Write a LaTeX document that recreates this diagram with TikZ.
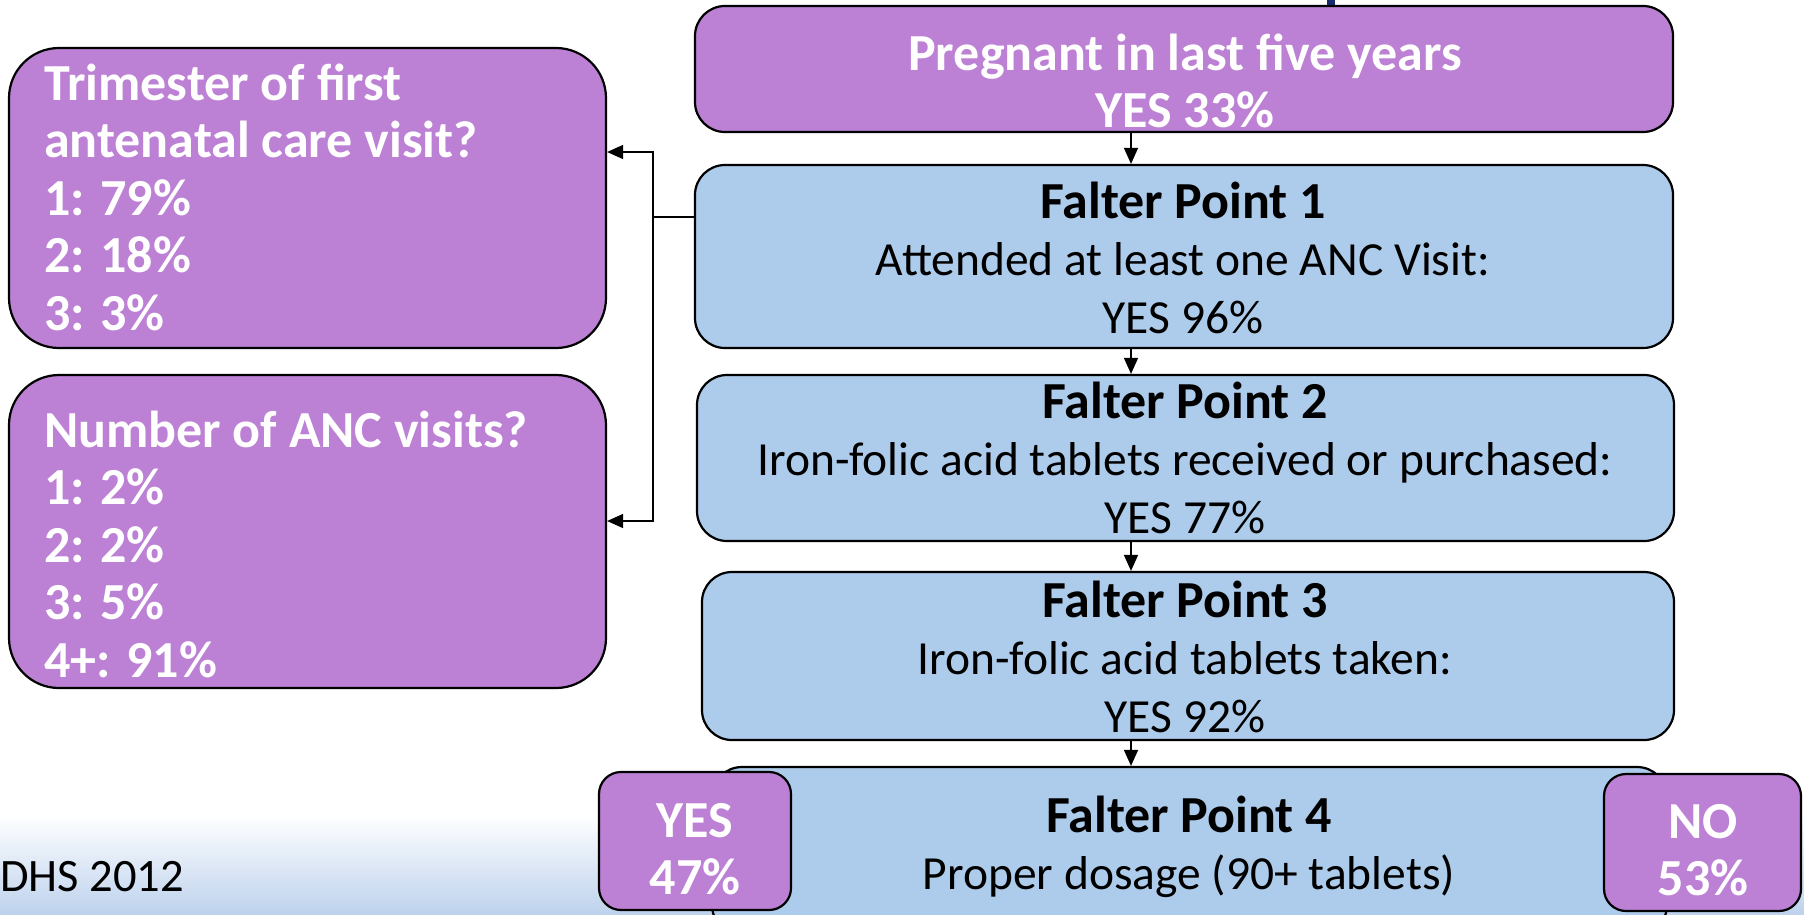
\documentclass[tikz,border=0pt]{standalone}
\usepackage{fontspec}
\setmainfont{Carlito}
\usetikzlibrary{arrows.meta}
\definecolor{boxpurple}{RGB}{188,128,212}
\definecolor{boxblue}{RGB}{173,203,234}
\definecolor{bandblue}{RGB}{190,210,237}
\definecolor{titlenavy}{RGB}{22,42,110}
\newcommand{\falter}[1]{{\fontsize{52}{57.5}\selectfont\bfseries Falter Point #1}}
\begin{document}
\begin{tikzpicture}[x=1pt, y=-1pt, >={Triangle[length=16pt,width=14pt]},
    box/.style={draw, line width=2.2pt, rounded corners=#1, inner sep=0pt},
    box/.default=30pt,
    purplebox/.style={box=#1, fill=boxpurple},
    purplebox/.default=30pt,
    bluebox/.style={box=30pt, fill=boxblue},
    whitetxt/.style={inner sep=0pt, align=center, anchor=north, text=white,
      font=\fontsize{52}{57.5}\selectfont\bfseries},
    blacktxt/.style={inner sep=0pt, align=center, anchor=north,
      font=\fontsize{47.5}{57.5}\selectfont},
    link/.style={line width=1.5pt}]
  \useasboundingbox (0,0) rectangle (1804,914);

  \shade[top color=white, bottom color=bandblue] (0,815) rectangle (1804,914);
  \fill[titlenavy] (1327,0) rectangle (1335,6);
  \node[anchor=base west, inner sep=0pt, font=\fontsize{46.5}{56}\selectfont] (source) at (0,891) {DHS 2012};

  \node[purplebox, minimum width=978pt, minimum height=126pt] (preg) at (1184,69) {};
  \node[bluebox, minimum width=978pt, minimum height=183pt] (fp1) at (1184,256.5) {};
  \node[bluebox, minimum width=977pt, minimum height=166pt] (fp2) at (1185.5,458) {};
  \node[bluebox, minimum width=972pt, minimum height=168pt] (fp3) at (1188,656) {};
  \node[bluebox, minimum width=955pt, minimum height=168pt] (fp4) at (1189.5,851) {};
  \node[purplebox=50pt, minimum width=597pt, minimum height=300pt] (trim) at (307.5,198) {};
  \node[purplebox=50pt, minimum width=597pt, minimum height=313pt] (anc) at (307.5,531.5) {};
  \node[purplebox=22pt, minimum width=192pt, minimum height=138pt] (yes) at (695,841) {};
  \node[purplebox=22pt, minimum width=197pt, minimum height=137pt] (no) at (1702.5,842.5) {};

  \node[whitetxt] (pregtxt) at (1185,29.75) {\strut Pregnant in last five years\\YES 33\%};
  \node[blacktxt] (fp1txt) at (1183,177.75) {\strut\falter{1}\\Attended at least one ANC Visit:\\YES 96\%};
  \node[blacktxt] (fp2txt) at (1185,377.75) {\strut\falter{2}\\Iron-folic acid tablets received or purchased:\\YES 77\%};
  \node[blacktxt] (fp3txt) at (1185,576.75) {\strut\falter{3}\\Iron-folic acid tablets taken:\\YES 92\%};
  \node[blacktxt] (fp4txt) at (1189,791.75) {\strut\falter{4}\\Proper dosage (90+ tablets)};
  \node[whitetxt, align=left, anchor=north west] (trimtxt) at (44,59.75)
    {\strut Trimester of first\\antenatal care visit?\\1: 79\%\\2: 18\%\\3: 3\%};
  \node[whitetxt, align=left, anchor=north west] (anctxt) at (44,406.75)
    {\strut Number of ANC visits?\\1: 2\%\\2: 2\%\\3: 5\%\\4+: 91\%};
  \node[whitetxt] (yestxt) at (695,796.75) {\strut YES\\47\%};
  \node[whitetxt] (notxt) at (1703,797.75) {\strut NO\\53\%};

  \coordinate (stem) at (1131,0);
  \coordinate (split) at (653,217);
  \coordinate (uptee) at (653,152);
  \coordinate (dntee) at (653,521);

  \draw[link, ->] (preg.south -| stem) -- (fp1.north -| stem);
  \draw[link, ->] (fp1.south -| stem) -- (fp2.north -| stem);
  \draw[link, ->] (fp2.south -| stem) -- (fp3.north -| stem);
  \draw[link, ->] (fp3.south -| stem) -- (fp4.north -| stem);
  \draw[link] (fp1.west |- split) -- (split);
  \draw[link, ->] (split) -- (uptee) -- (trim.east |- uptee);
  \draw[link, ->] (split) -- (dntee) -- (anc.east |- dntee);
\end{tikzpicture}
\end{document}
